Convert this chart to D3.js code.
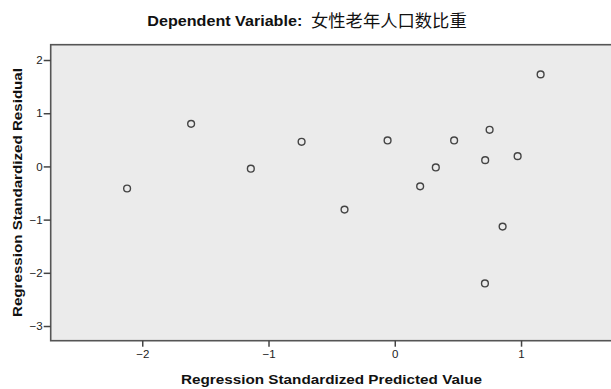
<!DOCTYPE html>
<html>
<head>
<meta charset="utf-8">
<script src="https://cdn.jsdelivr.net/npm/d3@7"></script>
<style>
  body { margin: 0; background: #fff; }
  svg { display: block; font-family: "Liberation Sans", Arial, sans-serif; }
</style>
</head>
<body>
<div id="chart"></div>
<script>
// predicted value (x) and residual (y)
const predicted = [1.155, 0.751, -0.057, 0.470, 0.716, 0.973, 0.325, 0.201, -0.398, 0.854, 0.714, -1.613, -2.120, -1.140, -0.738];
const residual  = [1.73, 0.688, 0.488, 0.488, 0.118, 0.193, -0.019, -0.375, -0.812, -1.131, -2.20, 0.80, -0.415, -0.043, 0.463];
const xTicks = [-2, -1, 0, 1];
const yTicks = [2, 1, 0, -1, -2, -3];

const W = 611, H = 389;
const plot = { left: 50.7, top: 44.7, bottom: 340.7, right: 625 };

const svg = d3.select('#chart').append('svg')
    .attr('width', W)
    .attr('height', H);

const x = d3.scaleLinear()
    .domain([-2.725, (plot.right - 394.9) / 126.2])
    .range([plot.left, plot.right]);

const y = d3.scaleLinear()
    .domain([-3.276, 2.288])
    .range([plot.bottom, plot.top]);

// plot background + frame
svg.append('rect')
    .attr('x', plot.left)
    .attr('y', plot.top)
    .attr('width', plot.right - plot.left)
    .attr('height', plot.bottom - plot.top)
    .attr('fill', '#ebebeb')
    .attr('stroke', '#555')
    .attr('stroke-width', 1.6);

// axes
const yAxis = svg.append('g')
    .attr('transform', `translate(${plot.left},0)`)
    .call(d3.axisLeft(y).tickValues(yTicks).tickSize(7).tickPadding(1).tickFormat(d3.format('d')));

const xAxis = svg.append('g')
    .attr('transform', `translate(0,${plot.bottom})`)
    .call(d3.axisBottom(x).tickValues(xTicks).tickSize(6).tickPadding(3).tickFormat(d3.format('d')));

[xAxis, yAxis].forEach(g => {
    g.select('.domain').remove();
    g.selectAll('line').attr('stroke', '#444').attr('stroke-width', 1.5);
    g.selectAll('text')
        .attr('fill', '#222')
        .style('font-size', '11.5px')
        .style('font-family', '"Liberation Sans", Arial, sans-serif');
});

// points
svg.append('g')
    .selectAll('circle')
    .data(predicted.map((d, i) => [d, residual[i]]))
    .enter()
    .append('circle')
    .attr('cx', d => x(d[0]))
    .attr('cy', d => y(d[1]))
    .attr('r', 3.4)
    .attr('fill', 'none')
    .attr('stroke', '#444')
    .attr('stroke-width', 1.4);

// title
svg.append('text')
    .attr('x', 147.3)
    .attr('y', 25.7)
    .attr('fill', '#111')
    .attr('textLength', 155)
    .attr('lengthAdjust', 'spacingAndGlyphs')
    .style('font-size', '15px')
    .style('font-weight', 'bold')
    .text('Dependent Variable:');
svg.append('text')
    .attr('x', 311)
    .attr('y', 26.5)
    .attr('fill', '#111')
    .attr('textLength', 155.7)
    .attr('lengthAdjust', 'spacingAndGlyphs')
    .style('font-size', '16.5px')
    .style('font-family', '"Noto Sans CJK SC", sans-serif')
    .text('女性老年人口数比重');

// axis titles
svg.append('text')
    .attr('x', 181)
    .attr('y', 383.5)
    .attr('fill', '#111')
    .attr('textLength', 301)
    .attr('lengthAdjust', 'spacingAndGlyphs')
    .style('font-size', '13.5px')
    .style('font-weight', 'bold')
    .text('Regression Standardized Predicted Value');

svg.append('text')
    .attr('transform', 'translate(21.5,317) rotate(-90)')
    .attr('fill', '#111')
    .attr('textLength', 249)
    .attr('lengthAdjust', 'spacingAndGlyphs')
    .style('font-size', '13.5px')
    .style('font-weight', 'bold')
    .text('Regression Standardized Residual');
</script>
</body>
</html>
